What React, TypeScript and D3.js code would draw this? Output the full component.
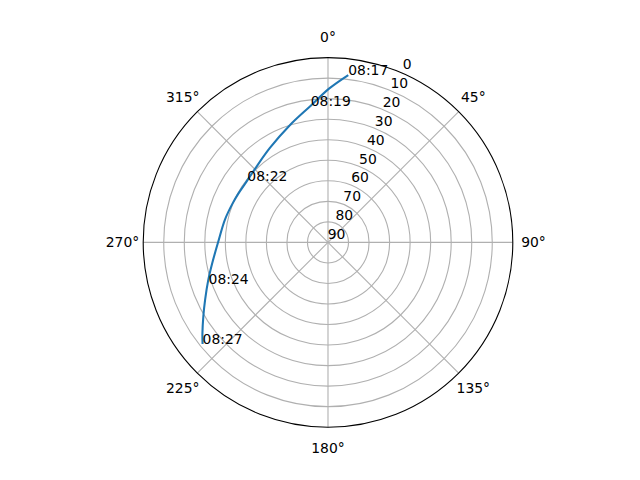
import React from "react";
import * as d3 from "d3";

// Track data (azimuth in degrees clockwise from north, elevation in degrees)
const trackAzimuth = [6.9, 0.5, 352.8, 342.1, 328.4, 315.4, 306.7, 298.7, 292.1, 282.5, 269.8, 259.8, 252.6, 244.9, 239.2, 234.1, 231.0];
const trackElevation = [7.9, 15.0, 22.9, 29.9, 36.0, 39.5, 40.5, 40.3, 39.8, 38.6, 36.4, 32.7, 28.9, 23.9, 19.3, 14.5, 11.4];

// Time annotations
const labelTimes = ["08:17", "08:19", "08:22", "08:24", "08:27"];
const labelAzimuth = [6.9, 352.8, 307.3, 250.8, 231.0];
const labelElevation = [7.9, 22.9, 40.6, 28.4, 11.4];

// Axis ticks
const thetaTicks = [0, 45, 90, 135, 180, 225, 270, 315];
const radialTicks = [0, 10, 20, 30, 40, 50, 60, 70, 80, 90];

const W = 640;
const H = 480;
const CX = 328;
const CY = 242.4;
const R = 184.8;
const FONT = "'DejaVu Sans', sans-serif";
const FS = 13.9;

export default function App() {
  const r = d3.scaleLinear().domain([90, 0]).range([0, R]);
  const toRad = (deg: number) => (deg * Math.PI) / 180;
  const pt = (az: number, el: number): [number, number] => [
    CX + r(el) * Math.sin(toRad(az)),
    CY - r(el) * Math.cos(toRad(az)),
  ];

  const line = d3
    .lineRadial<number>()
    .angle((_, i) => toRad(trackAzimuth[i]))
    .radius((_, i) => r(trackElevation[i]))
    .curve(d3.curveCatmullRom.alpha(0.5));
  const pathD = line(trackAzimuth) || "";

  const rlabAngle = 22.5;

  return (
    <div style={{ position: "fixed", left: 0, top: 0 }}>
      <svg width={W} height={H} style={{ display: "block", background: "#fff" }}>
        {/* radial gridlines */}
        {thetaTicks.map((t) => {
          const [x, y] = pt(t, 0);
          return <line key={"g" + t} x1={CX} y1={CY} x2={x} y2={y} stroke="#b0b0b0" strokeWidth={1.1} />;
        })}
        {/* circular gridlines */}
        {radialTicks
          .filter((v) => v > 0 && v < 90)
          .map((v) => (
            <circle key={"c" + v} cx={CX} cy={CY} r={r(v)} fill="none" stroke="#b0b0b0" strokeWidth={1.1} />
          ))}
        {/* spine */}
        <circle cx={CX} cy={CY} r={R} fill="none" stroke="#000" strokeWidth={1.1} />
        {/* track */}
        <path d={pathD} transform={`translate(${CX},${CY})`} fill="none" stroke="#1f77b4" strokeWidth={2.08} strokeLinecap="butt" strokeLinejoin="round" />
        {/* theta labels */}
        {thetaTicks.map((t) => {
          const x = CX + 205.5 * Math.sin(toRad(t));
          const y = CY - 205.5 * Math.cos(toRad(t));
          return (
            <text key={"t" + t} x={x} y={y} textAnchor="middle" dominantBaseline="central" fontFamily={FONT} fontSize={FS} fill="#000">
              {t}°
            </text>
          );
        })}
        {/* radial labels */}
        {radialTicks.map((v) => {
          const [x, y] = pt(rlabAngle, v);
          return (
            <text key={"r" + v} x={x + 8.5} y={y - 8} textAnchor="middle" dominantBaseline="central" fontFamily={FONT} fontSize={FS} fill="#000">
              {v}
            </text>
          );
        })}
        {/* time annotations */}
        {labelTimes.map((s, i) => {
          const [x, y] = pt(labelAzimuth[i], labelElevation[i]);
          return (
            <text key={"l" + i} x={x} y={y} fontFamily={FONT} fontSize={FS} fill="#000">
              {s}
            </text>
          );
        })}
      </svg>
    </div>
  );
}
